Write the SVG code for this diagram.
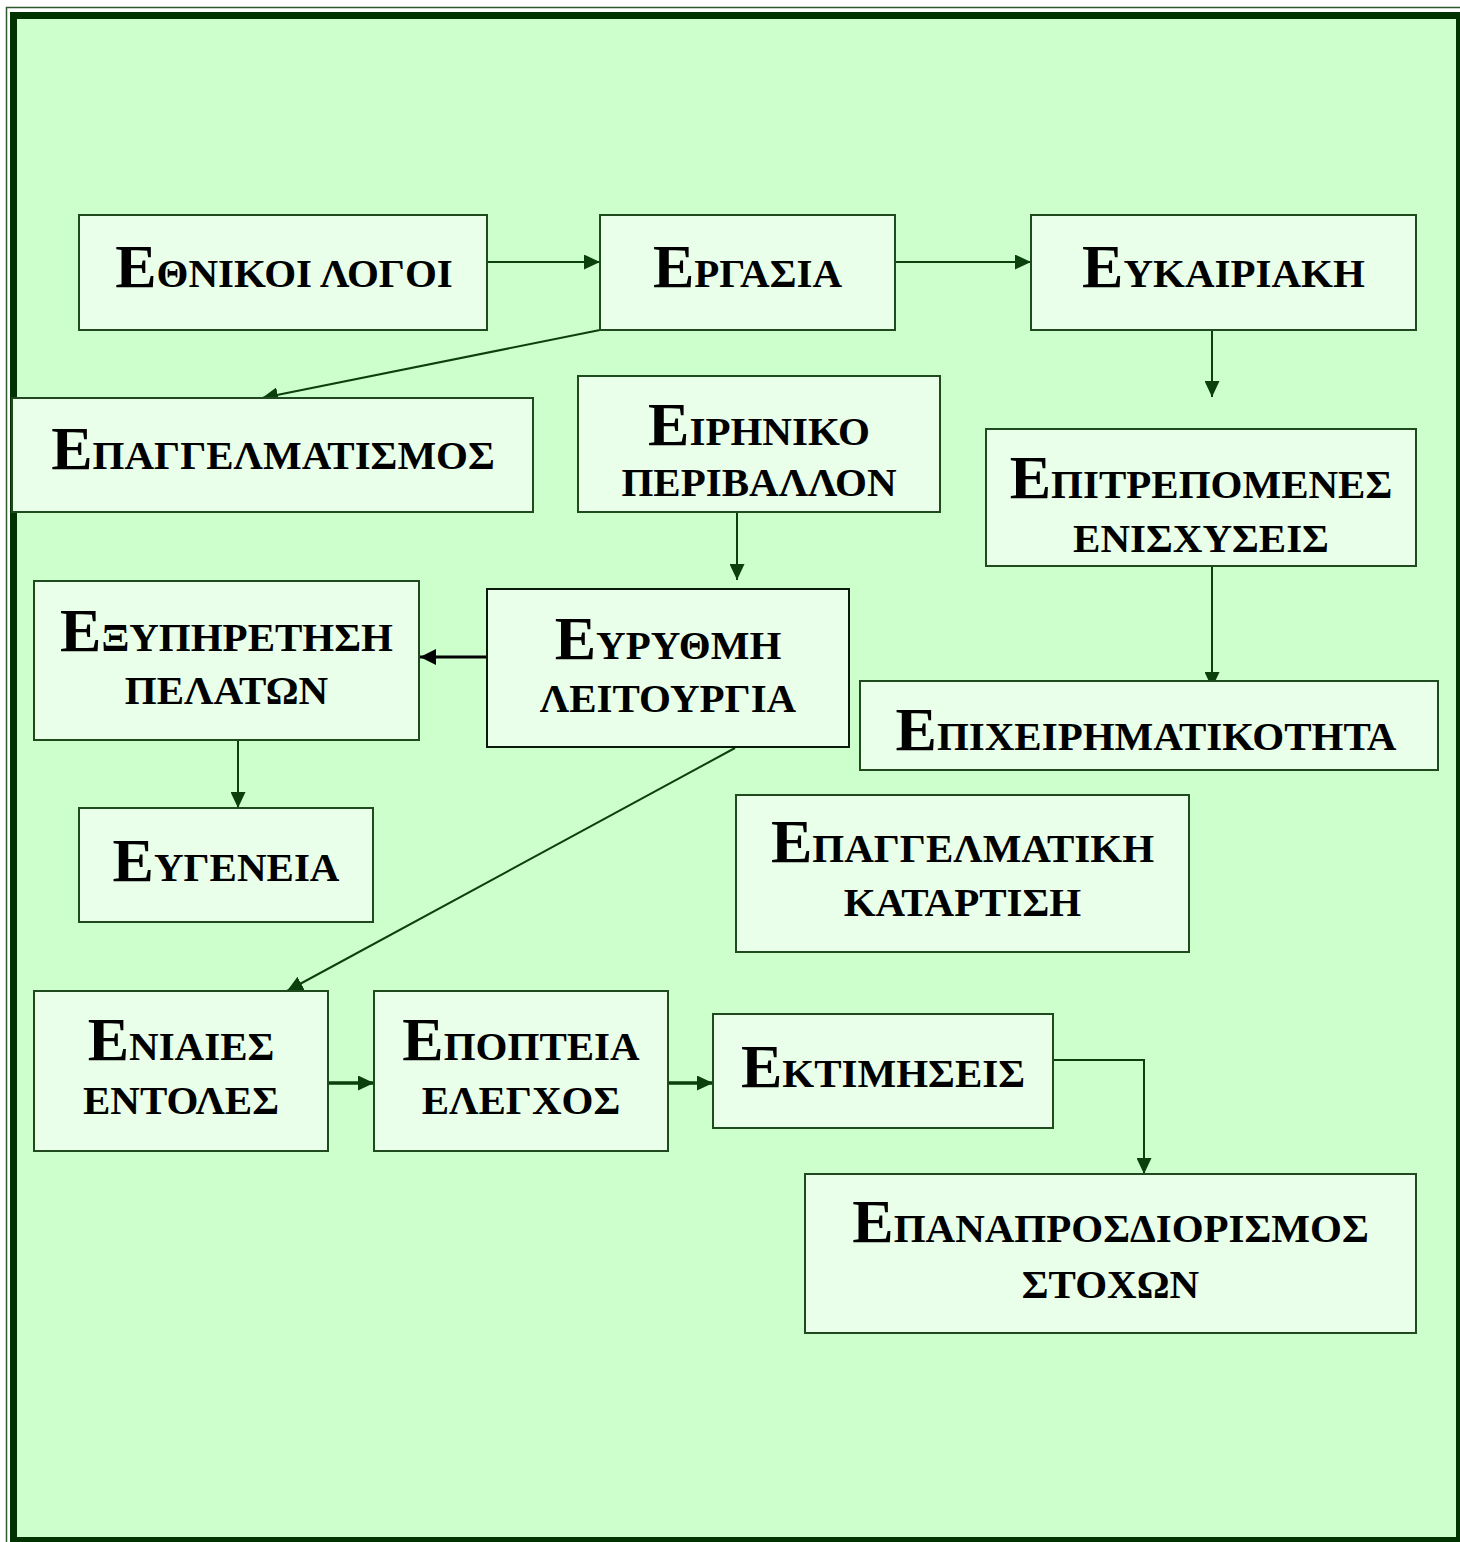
<svg xmlns="http://www.w3.org/2000/svg" width="1460" height="1542" viewBox="0 0 1460 1542">
<style>
  .box { fill: #EAFFEA; stroke: #1E4A1E; stroke-width: 2; }
  .boxk { fill: #EAFFEA; stroke: #0A1A0A; stroke-width: 2; }
  .t { font-family: "Liberation Serif", "Times New Roman", serif; font-weight: bold; font-size: 41px; fill: #000; text-anchor: middle; }
  .big { font-size: 62px; }
  .c { fill: none; stroke: #0B3F0B; stroke-width: 2; }
  .c3 { fill: none; stroke: #0B3F0B; stroke-width: 3.5; }
  .ck { fill: none; stroke: #000; stroke-width: 3; }
</style>
<defs>
  <marker id="ah" markerUnits="userSpaceOnUse" markerWidth="17" markerHeight="15" refX="16" refY="7.5" orient="auto">
    <path d="M0,0 L16,7.5 L0,15 Z" fill="#0B3F0B"/>
  </marker>
  <marker id="ahk" markerUnits="userSpaceOnUse" markerWidth="17" markerHeight="16" refX="16" refY="8" orient="auto">
    <path d="M0,0 L16,8 L0,16 Z" fill="#000"/>
  </marker>
</defs>
<rect x="0" y="0" width="1460" height="1542" fill="#FFFFFF"/>
<rect x="6.5" y="7.5" width="1470" height="1550" fill="none" stroke="#2F5A2F" stroke-width="1.5"/>
<rect x="13.5" y="15.5" width="1446" height="1525" fill="#CCFFCC" stroke="#003300" stroke-width="7"/>

<g id="connectors">
  <line class="c" x1="487" y1="262" x2="600" y2="262" marker-end="url(#ah)"/>
  <line class="c" x1="895" y1="262" x2="1031" y2="262" marker-end="url(#ah)"/>
  <line class="c" x1="600" y1="330" x2="262" y2="398" marker-end="url(#ah)"/>
  <line class="c" x1="1212" y1="330" x2="1212" y2="397" marker-end="url(#ah)"/>
  <line class="c" x1="737" y1="512" x2="737" y2="580" marker-end="url(#ah)"/>
  <line class="c" x1="1212" y1="566" x2="1212" y2="688" marker-end="url(#ah)"/>
  <line class="ck" x1="487" y1="657" x2="420" y2="657" marker-end="url(#ahk)"/>
  <line class="c" x1="238" y1="740" x2="238" y2="808" marker-end="url(#ah)"/>
  <line class="c" x1="735" y1="748" x2="287" y2="991" marker-end="url(#ah)"/>
  <line class="c3" x1="328" y1="1083" x2="374" y2="1083" marker-end="url(#ah)"/>
  <line class="c3" x1="668" y1="1083" x2="713" y2="1083" marker-end="url(#ah)"/>
  <polyline class="c" points="1053,1060 1144,1060 1144,1174" marker-end="url(#ah)"/>
</g>

<g id="n-ethnikoi">
  <rect class="box" x="79" y="215" width="408" height="115"/>
  <text class="t" x="284" y="287"><tspan class="big">Ε</tspan>ΘΝΙΚΟΙ ΛΟΓΟΙ</text>
</g>
<g id="n-ergasia">
  <rect class="box" x="600" y="215" width="295" height="115"/>
  <text class="t" x="747.5" y="287"><tspan class="big">Ε</tspan>ΡΓΑΣΙΑ</text>
</g>
<g id="n-eykairiaki">
  <rect class="box" x="1031" y="215" width="385" height="115"/>
  <text class="t" x="1223.5" y="287"><tspan class="big">Ε</tspan>ΥΚΑΙΡΙΑΚΗ</text>
</g>
<g id="n-epaggelmatismos">
  <rect class="box" x="12" y="398" width="521" height="114"/>
  <text class="t" x="273" y="469"><tspan class="big">Ε</tspan>ΠΑΓΓΕΛΜΑΤΙΣΜΟΣ</text>
</g>
<g id="n-eirhniko">
  <rect class="box" x="578" y="376" width="362" height="136"/>
  <text class="t" x="759" y="445"><tspan class="big">Ε</tspan>ΙΡΗΝΙΚΟ</text>
  <text class="t" x="759" y="496">ΠΕΡΙΒΑΛΛΟΝ</text>
</g>
<g id="n-epitrepomenes">
  <rect class="box" x="986" y="429" width="430" height="137"/>
  <text class="t" x="1201" y="498"><tspan class="big">Ε</tspan>ΠΙΤΡΕΠΟΜΕΝΕΣ</text>
  <text class="t" x="1201" y="552">ΕΝΙΣΧΥΣΕΙΣ</text>
</g>
<g id="n-exyphrethsh">
  <rect class="box" x="34" y="581" width="385" height="159"/>
  <text class="t" x="226.5" y="651"><tspan class="big">Ε</tspan>ΞΥΠΗΡΕΤΗΣΗ</text>
  <text class="t" x="226.5" y="704">ΠΕΛΑΤΩΝ</text>
</g>
<g id="n-eyrythmh">
  <rect class="boxk" x="487" y="589" width="362" height="158"/>
  <text class="t" x="668" y="659"><tspan class="big">Ε</tspan>ΥΡΥΘΜΗ</text>
  <text class="t" x="668" y="712">ΛΕΙΤΟΥΡΓΙΑ</text>
</g>
<g id="n-epixeirhmatikothta">
  <rect class="box" x="860" y="681" width="578" height="89"/>
  <text class="t" x="1146" y="750"><tspan class="big">Ε</tspan>ΠΙΧΕΙΡΗΜΑΤΙΚΟΤΗΤΑ</text>
</g>
<g id="n-eygeneia">
  <rect class="box" x="79" y="808" width="294" height="114"/>
  <text class="t" x="226" y="881"><tspan class="big">Ε</tspan>ΥΓΕΝΕΙΑ</text>
</g>
<g id="n-epaggelmatikh">
  <rect class="box" x="736" y="795" width="453" height="157"/>
  <text class="t" x="962.5" y="862"><tspan class="big">Ε</tspan>ΠΑΓΓΕΛΜΑΤΙΚΗ</text>
  <text class="t" x="962.5" y="916">ΚΑΤΑΡΤΙΣΗ</text>
</g>
<g id="n-eniaies">
  <rect class="box" x="34" y="991" width="294" height="160"/>
  <text class="t" x="181" y="1060"><tspan class="big">Ε</tspan>ΝΙΑΙΕΣ</text>
  <text class="t" x="181" y="1114">ΕΝΤΟΛΕΣ</text>
</g>
<g id="n-epopteia">
  <rect class="box" x="374" y="991" width="294" height="160"/>
  <text class="t" x="521" y="1060"><tspan class="big">Ε</tspan>ΠΟΠΤΕΙΑ</text>
  <text class="t" x="521" y="1114">ΕΛΕΓΧΟΣ</text>
</g>
<g id="n-ektimhseis">
  <rect class="box" x="713" y="1014" width="340" height="114"/>
  <text class="t" x="883" y="1087"><tspan class="big">Ε</tspan>ΚΤΙΜΗΣΕΙΣ</text>
</g>
<g id="n-epanaprosdiorismos">
  <rect class="box" x="805" y="1174" width="611" height="159"/>
  <text class="t" x="1110.5" y="1242"><tspan class="big">Ε</tspan>ΠΑΝΑΠΡΟΣΔΙΟΡΙΣΜΟΣ</text>
  <text class="t" x="1110.5" y="1298">ΣΤΟΧΩΝ</text>
</g>
</svg>
